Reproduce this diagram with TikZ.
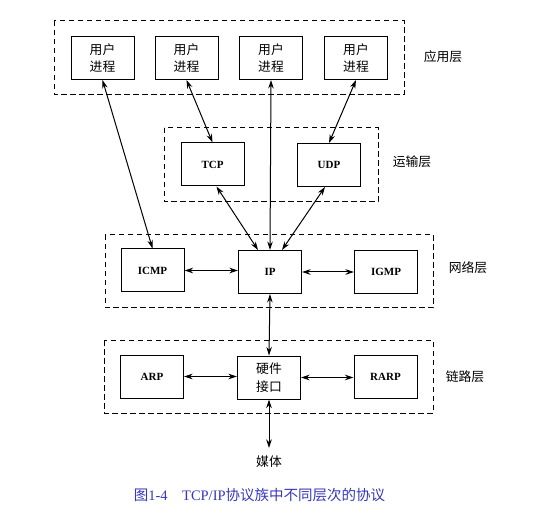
\documentclass[tikz,border=0pt]{standalone}
\usepackage{fontspec}
\setmainfont{Liberation Serif}
\newfontfamily\cjk{Noto Sans CJK SC}
\usetikzlibrary{arrows.meta}
\definecolor{capblue}{RGB}{55,55,190}

\tikzset{
  box/.style={draw, line width=1pt, minimum width=63pt, minimum height=43pt, inner sep=0pt, align=center},
  proto/.style={box, font=\fontsize{11}{12}\selectfont\bfseries},
  proc/.style={box, font=\cjk\fontsize{12.8}{17.5}\selectfont},
  layer/.style={draw, line width=1pt, dash pattern=on 5.5pt off 3.5pt},
  layername/.style={font=\cjk\fontsize{12.8}{14}\selectfont},
  link/.style={line width=1pt, {Stealth[length=8.5pt,width=5.5pt]}-{Stealth[length=8.5pt,width=5.5pt]}},
}

\begin{document}
\begin{tikzpicture}[x=1pt,y=-1pt]
\useasboundingbox (0,0) rectangle (538,521);
\draw[layer] (54,21) rectangle (404,95);
\draw[layer] (164,128) rectangle (378,202);
\draw[layer] (105,235) rectangle (433,308);
\draw[layer] (104,340) rectangle (433,413);
\node[proc] (p1) at (102.5,58) {用户\\进程};
\node[proc] (p2) at (186.5,58) {用户\\进程};
\node[proc] (p3) at (271,58) {用户\\进程};
\node[proc] (p4) at (356,58) {用户\\进程};
\node[proto] (tcp) at (212.5,164.5) {TCP};
\node[proto] (udp) at (329,165) {UDP};
\node[proto] (icmp) at (152.5,270.5) {ICMP};
\node[proto] (ip) at (270,272) {IP};
\node[proto] (igmp) at (386,272) {IGMP};
\node[proto] (arp) at (152,376.5) {ARP};
\node[proc] (hw) at (269,377.5) {硬件\\接口};
\node[proto] (rarp) at (385.5,377) {RARP};
\node[layername] (appl) at (443,57) {应用层};
\node[layername] (tranl) at (412,162) {运输层};
\node[layername] (netl) at (468,268) {网络层};
\node[layername] (linkl) at (465,377) {链路层};
\node[layername] (med) at (269,462) {媒体};
\coordinate (medtop) at (269,448);
\node[text=capblue, font=\fontsize{14.5}{16}\selectfont] (cap) at (259.5,495) {{\cjk 图}1-4\hspace{1em}TCP/IP{\cjk 协议族中不同层次的协议}};
\draw[link] (p1.south) -- (icmp.north);
\draw[link] (p2.south) -- (tcp.north);
\draw[link] (p3.south) -- (ip.north);
\draw[link] (p4.south) -- (udp.north);
\draw[link] ([xshift=4pt]tcp.south) -- ([xshift=-12pt]ip.north);
\draw[link] ([xshift=-4pt]udp.south) -- ([xshift=12pt]ip.north);
\draw[link] (icmp.east) -- (icmp.east -| ip.west);
\draw[link] (ip.east) -- (ip.east -| igmp.west);
\draw[link] (ip.south) -- (hw.north);
\draw[link] (arp.east) -- (arp.east -| hw.west);
\draw[link] (hw.east) -- (hw.east -| rarp.west);
\draw[link] (hw.south) -- (medtop);
\end{tikzpicture}
\end{document}
